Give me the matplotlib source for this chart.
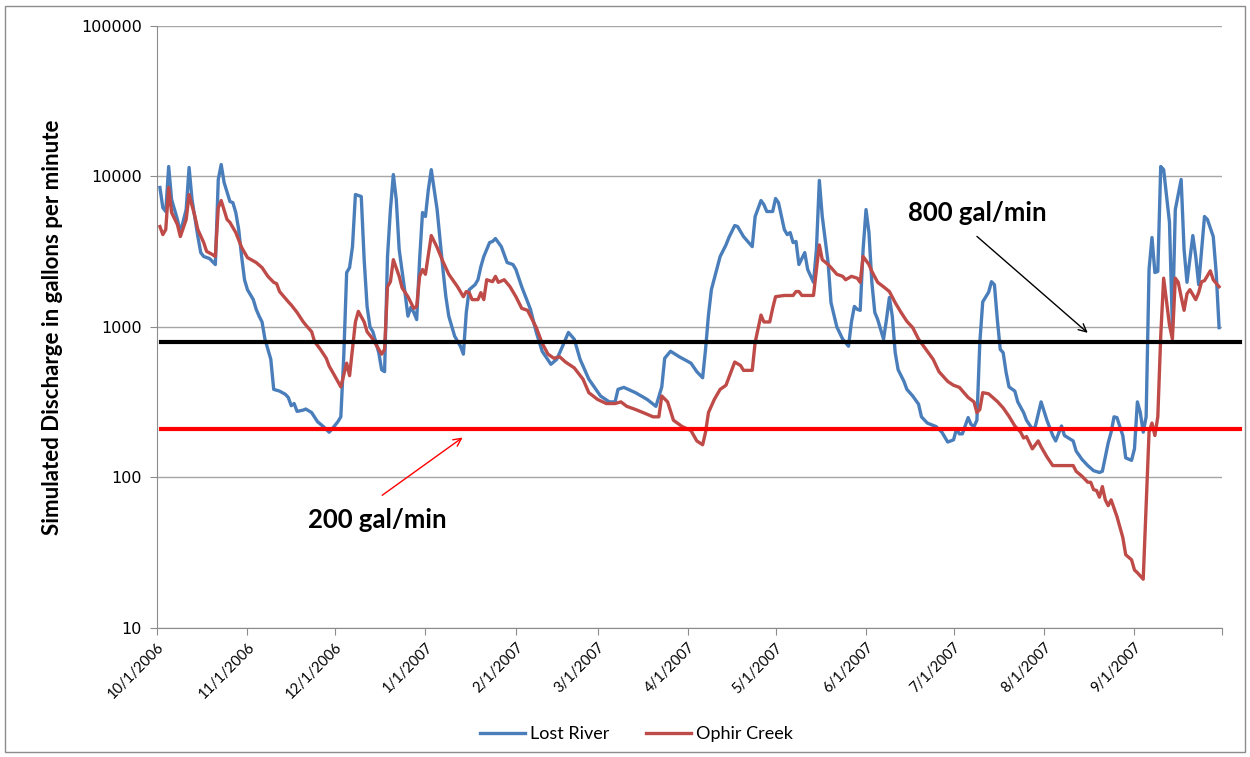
import pandas as pd
import matplotlib
matplotlib.use("Agg")
import matplotlib.pyplot as plt
from matplotlib.ticker import FixedLocator, FuncFormatter, NullLocator
from matplotlib.lines import Line2D
from matplotlib.patches import Rectangle

# Datos (dias desde 10/1/2006, caudal en gal/min)
lost_days = [1, 2, 3, 4, 5, 7, 8, 10, 11, 12, 14, 15, 16, 18, 19, 20, 21, 22, 23, 25,
             26, 27, 28, 29, 30, 31, 33, 34, 35, 36, 37, 38, 39, 40, 41, 42, 44, 45, 46, 47,
             48, 50, 51, 53, 55, 57, 59, 60, 62, 63, 64, 65, 66, 67, 68, 70, 71, 72, 73, 74,
             76, 77, 78, 79, 80, 81, 82, 83, 85, 86, 87, 88, 89, 90, 91, 92, 93, 94, 96, 97,
             98, 99, 100, 102, 104, 105, 106, 107, 109, 110, 111, 112, 114, 115, 116, 118, 120, 122, 123, 125,
             128, 130, 132, 135, 137, 139, 141, 143, 145, 148, 152, 155, 157, 158, 160, 164, 168, 171, 173, 174,
             176, 179, 183, 185, 187, 188, 189, 190, 193, 195, 196, 198, 199, 201, 204, 205, 207, 208, 209, 211,
             212, 213, 215, 216, 217, 218, 219, 220, 222, 223, 225, 226, 227, 228, 230, 231, 233, 235, 237, 238,
             239, 240, 241, 242, 243, 244, 245, 246, 247, 249, 250, 251, 252, 253, 254, 256, 257, 259, 261, 262,
             264, 267, 269, 271, 273, 274, 275, 276, 278, 279, 280, 281, 282, 283, 285, 286, 287, 288, 289, 290,
             291, 292, 294, 295, 297, 298, 300, 301, 303, 305, 307, 308, 310, 311, 314, 315, 317, 319, 321, 323,
             324, 326, 327, 328, 329, 331, 332, 334, 335, 336, 337, 338, 339, 340, 341, 342, 343, 344, 345, 347,
             348, 349, 351, 352, 353, 355, 356, 357, 359, 360, 362, 363, 364]
lost_flow = [8450, 6200, 5850, 11650, 7030, 5180, 4240, 6030, 11480, 7030, 3990, 3120, 2940, 2850, 2720, 2600, 9550, 12000, 9120, 6820,
             6700, 5760, 4440, 2940, 2060, 1770, 1520, 1310, 1180, 1080, 830, 710, 610, 385, 380, 375, 357, 340, 300, 310,
             275, 280, 285, 270, 235, 218, 200, 210, 235, 253, 634, 2300, 2480, 3420, 7590, 7360, 2800, 1370, 1000, 930,
             675, 520, 505, 2940, 6030, 10300, 7030, 3270, 1690, 1180, 1350, 1250, 1120, 2800, 5760, 5420, 8190, 11100, 6030, 3810,
             2410, 1590, 1180, 870, 745, 660, 1250, 1770, 1910, 2060, 2520, 2940, 3640, 3700, 3870, 3420, 2680, 2600, 2410, 1850,
             1310, 920, 690, 565, 610, 745, 920, 830, 610, 450, 348, 318, 318, 385, 397, 366, 330, 297, 400, 620,
             690, 634, 575, 505, 460, 710, 1200, 1770, 2940, 3510, 3930, 4720, 4650, 3990, 3420, 5420, 6920, 6500, 5850, 5850,
             7140, 6700, 4440, 4110, 4240, 3640, 3700, 2600, 3120, 2410, 1980, 3270, 9410, 5420, 2680, 1450, 1000, 830, 745, 1080,
             1370, 1310, 1290, 3270, 6030, 4240, 1980, 1250, 1120, 830, 1120, 1570, 1180, 675, 520, 435, 385, 348, 307, 253,
             230, 218, 200, 172, 178, 210, 195, 195, 250, 225, 218, 240, 790, 1470, 1700, 2000, 1910, 1120, 710, 675,
             500, 400, 375, 318, 270, 240, 210, 218, 318, 240, 190, 175, 220, 190, 175, 150, 132, 120, 111, 108,
             110, 170, 200, 253, 250, 190, 135, 130, 155, 318, 270, 200, 253, 2410, 3930, 2300, 2340, 11650, 11100, 4950,
             1000, 6030, 9550, 3270, 1980, 4050, 2940, 1910, 5420, 5180, 3990, 2300, 990]

ophir_days = [1, 2, 3, 4, 5, 7, 8, 10, 11, 13, 14, 16, 17, 19, 20, 21, 22, 24, 25, 27,
              29, 31, 34, 36, 38, 40, 41, 42, 45, 46, 48, 50, 51, 53, 54, 56, 58, 59, 61, 63,
              65, 66, 68, 69, 71, 72, 74, 76, 77, 78, 79, 80, 81, 83, 84, 86, 88, 89, 90, 91,
              92, 94, 96, 98, 100, 103, 105, 106, 107, 108, 110, 111, 112, 113, 115, 116, 117, 119, 121, 123,
              125, 127, 130, 132, 134, 136, 138, 140, 143, 146, 148, 151, 154, 157, 159, 161, 164, 168, 170, 172,
              173, 175, 177, 180, 183, 185, 187, 188, 189, 191, 193, 195, 196, 198, 200, 201, 204, 205, 207, 208,
              210, 211, 212, 215, 218, 219, 220, 221, 225, 226, 227, 228, 230, 231, 233, 235, 236, 238, 240, 241,
              242, 244, 245, 247, 249, 251, 253, 255, 257, 259, 261, 264, 266, 268, 271, 273, 275, 278, 280, 281,
              282, 283, 285, 288, 290, 292, 294, 296, 297, 298, 300, 302, 303, 305, 307, 314, 315, 317, 319, 320,
              321, 322, 323, 324, 325, 326, 327, 329, 331, 332, 334, 335, 336, 338, 340, 341, 342, 343, 344, 345,
              346, 347, 348, 349, 350, 351, 352, 353, 354, 356, 357, 358, 359, 361, 362, 364]
ophir_flow = [4650, 4110, 4440, 8450, 5760, 4790, 3990, 5180, 7590, 5420, 4440, 3640, 3180, 3030, 2940, 6200, 6920, 5180, 4950, 4240,
              3380, 2890, 2680, 2480, 2170, 1980, 1940, 1720, 1470, 1400, 1250, 1090, 1030, 930, 800, 710, 620, 550, 470, 400,
              575, 475, 1080, 1270, 1080, 930, 830, 710, 660, 710, 1850, 2000, 2800, 2170, 1820, 1590, 1330, 1370, 2170, 2410,
              2240, 4050, 3380, 2720, 2240, 1850, 1590, 1720, 1690, 1520, 1520, 1690, 1520, 2060, 2000, 2170, 1980, 2060, 1850, 1590,
              1330, 1290, 990, 780, 660, 620, 634, 585, 535, 450, 366, 330, 310, 310, 318, 297, 283, 263, 253, 253,
              348, 318, 240, 218, 205, 175, 165, 200, 270, 330, 385, 410, 462, 585, 555, 515, 515, 790, 1200, 1080,
              1080, 1330, 1590, 1620, 1620, 1720, 1720, 1620, 1620, 2410, 3510, 2800, 2600, 2480, 2240, 2170, 2060, 2170, 2110, 1980,
              2940, 2600, 2340, 1980, 1850, 1720, 1450, 1250, 1090, 990, 830, 690, 610, 505, 435, 410, 397, 340, 318, 270,
              283, 366, 360, 320, 290, 255, 220, 200, 183, 187, 155, 175, 160, 137, 120, 120, 110, 102, 93, 93,
              83, 82, 74, 87, 71, 65, 71, 55, 40, 30.7, 28.4, 24.3, 23.3, 21.1, 200, 230, 190, 253, 870, 2110,
              1470, 1030, 830, 2110, 1980, 1590, 1290, 1660, 1770, 1520, 1690, 2000, 2030, 2360, 2060, 1850]

umbral_alto = 800
umbral_bajo = 210

y_ticks = [10, 100, 1000, 10000, 100000]

# Se convierten los dias en fechas
inicio = pd.Timestamp("2006-10-01")
lost_dates = inicio + pd.to_timedelta(lost_days, unit="D")
ophir_dates = inicio + pd.to_timedelta(ophir_days, unit="D")
month_ticks = pd.date_range("2006-10-01", "2007-10-01", freq="MS")

def d(n):
    return inicio + pd.Timedelta(days=n)

fig = plt.figure(figsize=(12.5, 7.57), dpi=100)
ax = fig.add_axes([0.1256, 0.1704, 0.852, 0.7953])

gris = "#8C8C8C"
azul = "#4A7EBB"
rojo = "#BE4B48"

ax.plot(lost_dates, lost_flow, color=azul, lw=2.4, solid_joinstyle="round", zorder=3)
ax.plot(ophir_dates, ophir_flow, color=rojo, lw=2.4, solid_joinstyle="round", zorder=3)

# Lineas de umbral (se extienden mas alla del area del grafico)
ax.plot([d(1.5), d(371)], [umbral_alto, umbral_alto], color="black", lw=3, clip_on=False, zorder=4)
ax.plot([d(1.5), d(371)], [umbral_bajo, umbral_bajo], color="#FF0000", lw=3, clip_on=False, zorder=4)

ax.set_yscale("log")
ax.set_ylim(10, 100000)
ax.yaxis.set_major_locator(FixedLocator(y_ticks))
ax.yaxis.set_minor_locator(NullLocator())
ax.yaxis.set_major_formatter(FuncFormatter(lambda v, p: f"{int(v)}"))
ax.grid(axis="y", color="#A6A6A6", lw=1)
ax.set_axisbelow(True)

ax.set_xlim(d(0), d(365))
ax.set_xticks(month_ticks)
etiquetas = [f"{t.month}/{t.day}/{t.year}" for t in month_ticks[:-1]] + [""]
ax.set_xticklabels(etiquetas, rotation=45, ha="right", rotation_mode="anchor",
                   fontsize=10.5, family="Lato")

for s in ["top", "right"]:
    ax.spines[s].set_visible(False)
for s in ["left", "bottom"]:
    ax.spines[s].set_color(gris)
ax.tick_params(axis="both", direction="out", length=5, color=gris)
ax.tick_params(axis="y", labelsize=11.5, pad=6)
ax.tick_params(axis="x", pad=4)

ax.set_ylabel("Simulated Discharge in gallons per minute", fontsize=16,
              family="Lato", fontweight="bold")
ax.yaxis.set_label_coords(-0.088, 0.5)

# Anotaciones
ax.text(d(257.4), 5680, "800 gal/min", fontsize=18.5, family="Lato", fontweight="bold",
        ha="left", va="center")
ax.annotate("", xy=(d(319.7), 889), xytext=(d(280.3), 4110),
            arrowprops=dict(arrowstyle="->", color="black", lw=1, mutation_scale=14))
ax.text(d(51.7), 52.3, "200 gal/min", fontsize=18.5, family="Lato", fontweight="bold",
        ha="left", va="center")
ax.annotate("", xy=(d(105.5), 189), xytext=(d(76.4), 74.3),
            arrowprops=dict(arrowstyle="->", color="#FF0000", lw=1, mutation_scale=14))

handles = [Line2D([], [], color=azul, lw=2.4), Line2D([], [], color=rojo, lw=2.4)]
leg = fig.legend(handles, ["Lost River", "Ophir Creek"], loc="center", ncol=2,
                 bbox_to_anchor=(0.509, 0.03), frameon=False, handlelength=2.5,
                 handletextpad=0.3, columnspacing=2.0, prop={"family": "Lato", "size": 13})

fig.patches.append(Rectangle((0.004, 0.006), 0.992, 0.986, transform=fig.transFigure,
                             fill=False, edgecolor=gris, lw=1))

fig.savefig("out.png", dpi=100)
